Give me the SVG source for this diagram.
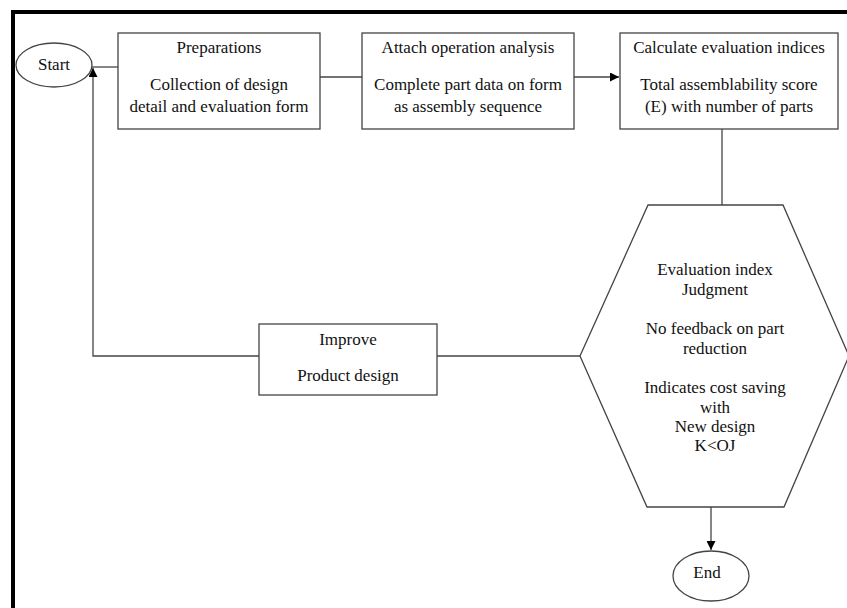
<svg xmlns="http://www.w3.org/2000/svg" width="847" height="608" viewBox="0 0 847 608">
<style>
.n{fill:#fff;stroke:#444;stroke-width:1.3}
.c{fill:none;stroke:#444;stroke-width:1.3}
.t{font-family:'Liberation Serif','Times New Roman','DejaVu Serif',serif;font-size:17px;fill:#111;text-anchor:middle}
</style>
<defs>
<marker id="ah" viewBox="0 0 10 10" refX="10" refY="5" markerWidth="9" markerHeight="9" markerUnits="userSpaceOnUse" orient="auto">
<path d="M0,0 L10,5 L0,10 Z" fill="#000"/>
</marker>
</defs>
<rect width="847" height="608" fill="#fff"/>
<g id="frame"><path d="M13,608 V12 H847" fill="none" stroke="#000" stroke-width="4"/></g>
<g id="connectors">
<path class="c" d="M92,67 H118"/>
<path class="c" d="M320,77 H362"/>
<path class="c" d="M574,77 H619" marker-end="url(#ah)"/>
<path class="c" d="M722,129 V205"/>
<path class="c" d="M580,356 H437"/>
<path class="c" d="M259,356 H93 V68" marker-end="url(#ah)"/>
<path class="c" d="M711,507 V550" marker-end="url(#ah)"/>
</g>
<g id="start"><ellipse class="n" cx="54" cy="65" rx="38" ry="22"/><text class="t" x="54" y="70">Start</text></g>
<g id="preparations"><rect class="n" x="118" y="33" width="202" height="96"/>
<text class="t" x="219" y="53">Preparations</text><text class="t" x="219" y="90">Collection of design</text><text class="t" x="219" y="112">detail and evaluation form</text></g>
<g id="attach"><rect class="n" x="362" y="33" width="212" height="96"/>
<text class="t" x="468" y="53">Attach operation analysis</text><text class="t" x="468" y="90">Complete part data on form</text><text class="t" x="468" y="112">as assembly sequence</text></g>
<g id="calculate"><rect class="n" x="620" y="33" width="218" height="96"/>
<text class="t" x="729" y="53">Calculate evaluation indices</text><text class="t" x="729" y="90">Total assemblability score</text><text class="t" x="729" y="112">(E) with number of parts</text></g>
<g id="judgment"><polygon class="n" points="648,205 783,205 849,356 784,507 647,507 580,356"/>
<text class="t" x="715" y="275">Evaluation index</text><text class="t" x="715" y="295">Judgment</text>
<text class="t" x="715" y="334">No feedback on part</text><text class="t" x="715" y="354">reduction</text>
<text class="t" x="715" y="393">Indicates cost saving</text><text class="t" x="715" y="413">with</text><text class="t" x="715" y="432">New design</text><text class="t" x="715" y="451">K&lt;OJ</text></g>
<g id="improve"><rect class="n" x="259" y="324" width="178" height="71"/>
<text class="t" x="348" y="345">Improve</text><text class="t" x="348" y="381">Product design</text></g>
<g id="end"><ellipse class="n" cx="711" cy="576" rx="38" ry="25"/><text class="t" x="707" y="578">End</text></g>
</svg>
